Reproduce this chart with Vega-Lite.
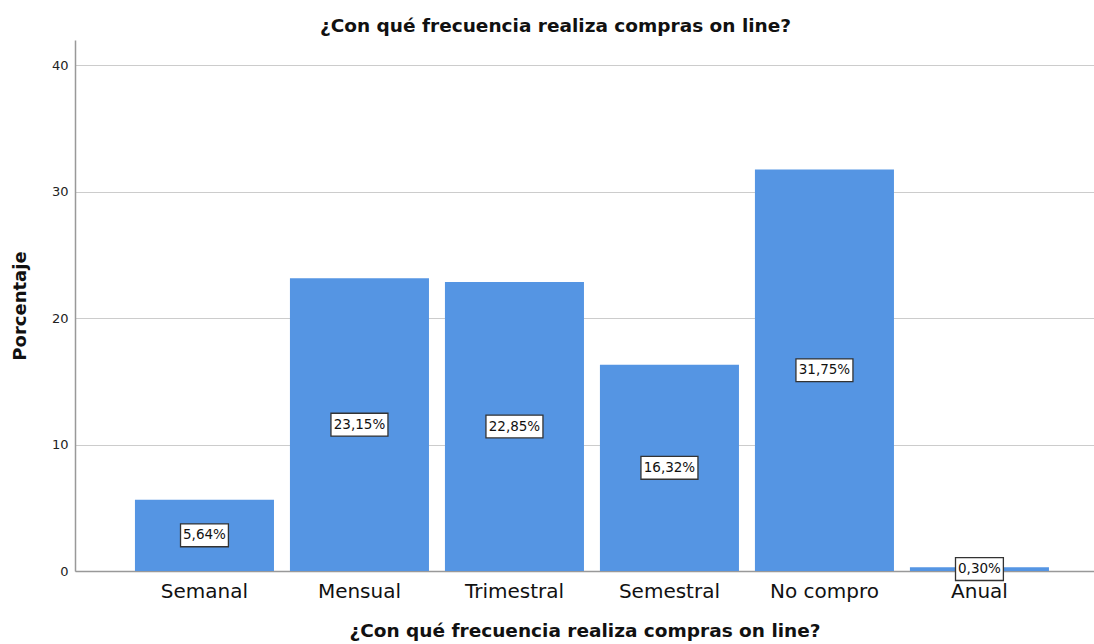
{
  "$schema": "https://vega.github.io/schema/vega-lite/v6.json",
  "autosize": {"type": "none"},
  "width": 1019,
  "height": 531,
  "padding": {"left": 75, "top": 40, "right": 0, "bottom": 73},
  "background": "white",
  "title": {
    "text": "¿Con qué frecuencia realiza compras on line?",
    "font": "DejaVu Sans",
    "fontSize": 18.5,
    "fontWeight": "bold",
    "color": "#111111",
    "anchor": "middle",
    "dx": -29,
    "offset": 5
  },
  "config": {
    "view": {"stroke": null},
    "font": "DejaVu Sans"
  },
  "data": {
    "values": [
      {"cat": "Semanal", "pct": 5.64, "label": "5,64%"},
      {"cat": "Mensual", "pct": 23.15, "label": "23,15%"},
      {"cat": "Trimestral", "pct": 22.85, "label": "22,85%"},
      {"cat": "Semestral", "pct": 16.32, "label": "16,32%"},
      {"cat": "No compro", "pct": 31.75, "label": "31,75%"},
      {"cat": "Anual", "pct": 0.30, "label": "0,30%"}
    ]
  },
  "encoding": {
    "x": {
      "field": "cat",
      "type": "nominal",
      "sort": null,
      "scale": {"paddingInner": 0.103, "paddingOuter": 0.3387, "align": 0.571},
      "axis": {
        "title": "¿Con qué frecuencia realiza compras on line?",
        "titleFont": "DejaVu Sans",
        "titleFontSize": 18.5,
        "titleFontWeight": "bold",
        "titleColor": "#111111",
        "titlePadding": 20,
        "labelAngle": 0,
        "labelFont": "DejaVu Sans",
        "labelFontSize": 20,
        "labelColor": "#111111",
        "labelPadding": 10,
        "ticks": false,
        "domainColor": "#999999",
        "domainWidth": 1.5,
        "grid": false
      }
    }
  },
  "layer": [
    {
      "mark": {"type": "bar", "color": "#5595E3"},
      "encoding": {
        "y": {
          "field": "pct",
          "type": "quantitative",
          "scale": {"domain": [0, 42], "nice": false},
          "axis": {
            "title": "Porcentaje",
            "titleFont": "DejaVu Sans",
            "titleFontSize": 18,
            "titleFontWeight": "bold",
            "titleColor": "#111111",
            "titlePadding": 22,
            "values": [0, 10, 20, 30, 40],
            "labelFont": "DejaVu Sans",
            "labelFontSize": 13,
            "labelColor": "#222222",
            "labelPadding": 7,
            "ticks": false,
            "domainColor": "#999999",
            "domainWidth": 1.5,
            "gridColor": "#cccccc",
            "gridWidth": 1.2
          }
        }
      }
    },
    {
      "transform": [{"calculate": "datum.pct / 2", "as": "mid"}],
      "mark": {"type": "point", "filled": true, "fill": "white", "stroke": "#333333", "strokeWidth": 1.3, "opacity": 1, "size": 3249},
      "encoding": {
        "y": {"field": "mid", "type": "quantitative"},
        "shape": {
          "condition": {"test": "length(datum.label) < 6", "value": "M-0.84,-0.4L0.84,-0.4L0.84,0.4L-0.84,0.4Z"},
          "value": "M-1,-0.4L1,-0.4L1,0.4L-1,0.4Z"
        }
      }
    },
    {
      "transform": [{"calculate": "datum.pct / 2", "as": "mid"}],
      "mark": {"type": "text", "fontSize": 13.5, "color": "#111111", "font": "DejaVu Sans", "baseline": "middle", "align": "center"},
      "encoding": {
        "y": {"field": "mid", "type": "quantitative"},
        "text": {"field": "label"}
      }
    }
  ]
}
